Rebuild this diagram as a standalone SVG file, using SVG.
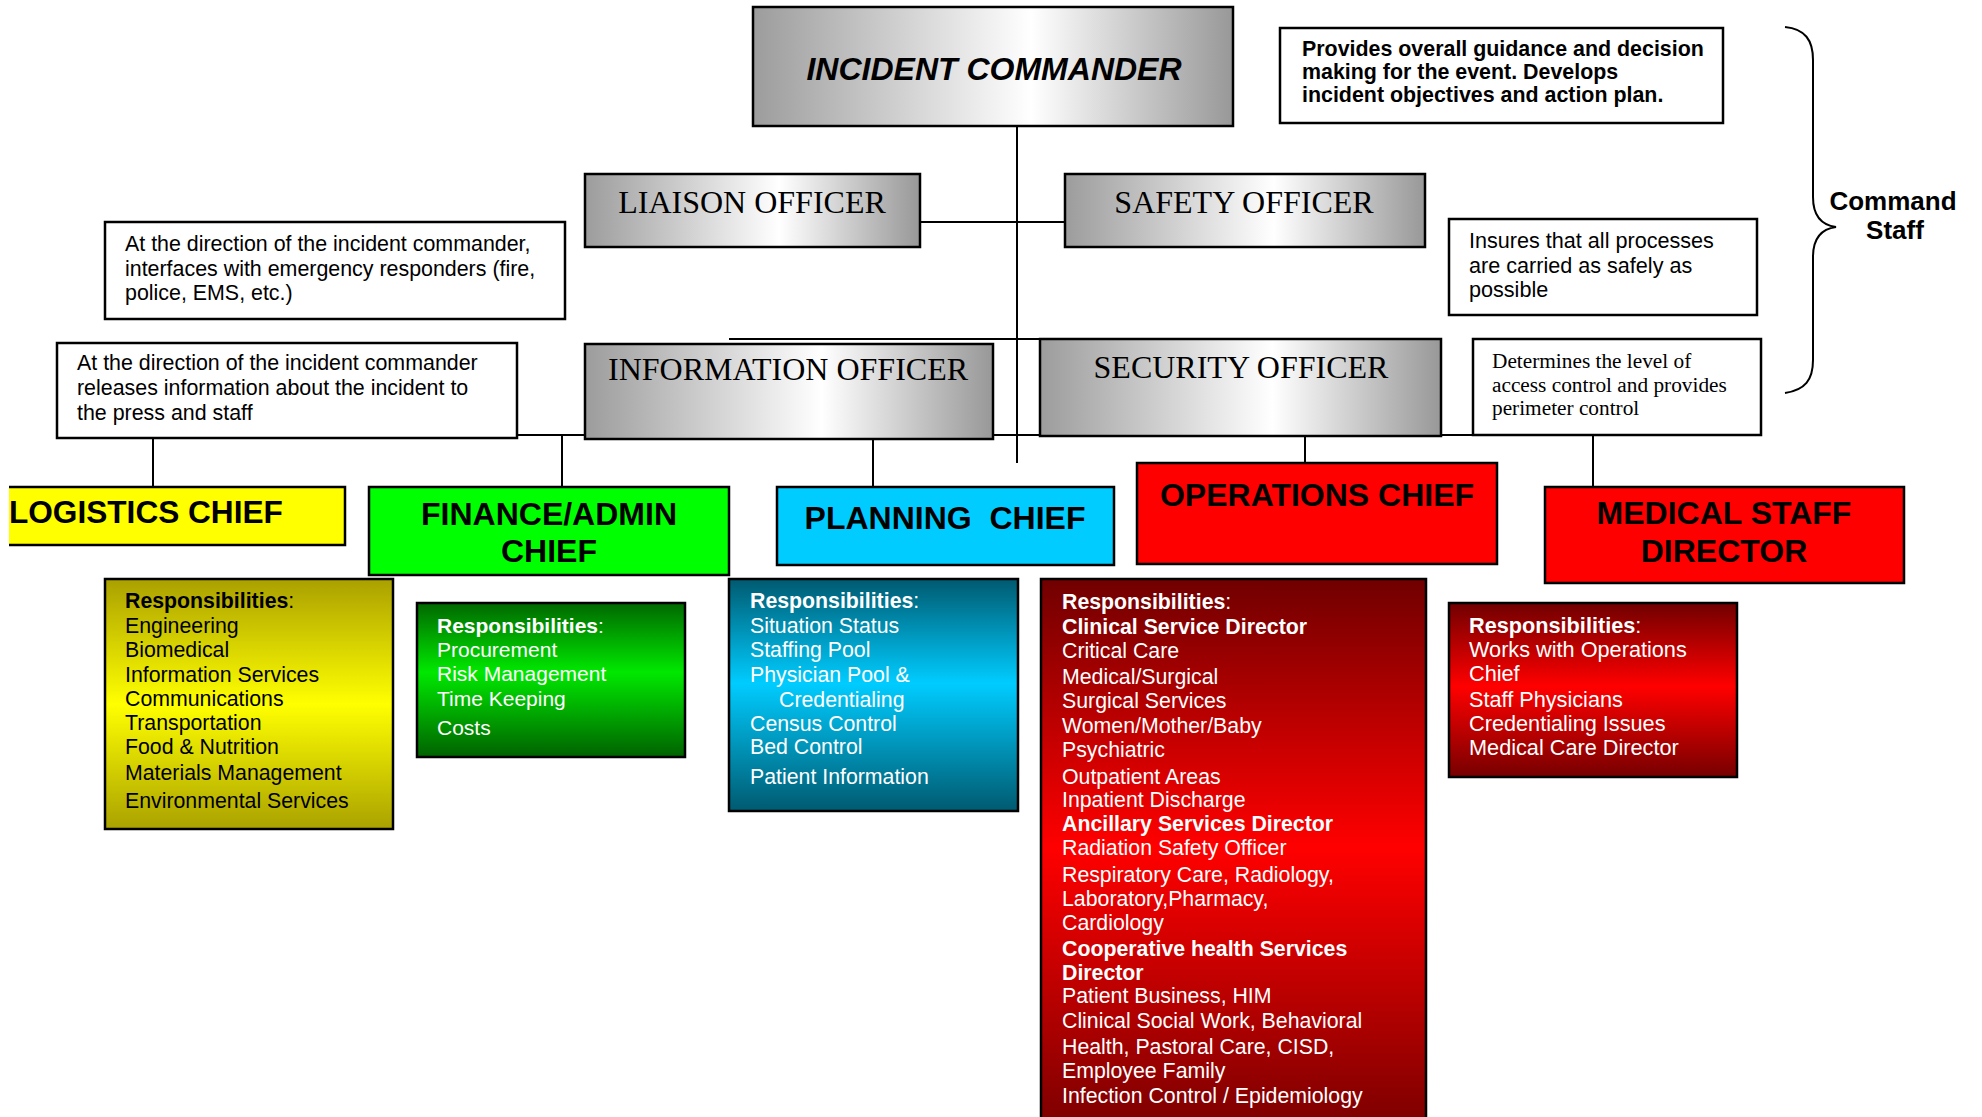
<svg xmlns="http://www.w3.org/2000/svg" width="1982" height="1117" viewBox="0 0 1982 1117">
<defs>
<style>
.box{stroke:#000;stroke-width:2.5}
.ln{stroke:#000;stroke-width:2;fill:none}
.sans{font-family:"Liberation Sans",Arial,sans-serif}
.serif{font-family:"Liberation Serif","Times New Roman",serif}
.off{font-size:32px;fill:#000;text-anchor:middle}
.chief{font-size:32px;font-weight:bold;fill:#000;text-anchor:middle}
.resp{font-size:21.3px}
.w{fill:#fff}
.k{fill:#000}
.b{font-weight:bold}
.desc{font-size:21.4px;fill:#000}
</style>
<linearGradient id="gray" x1="0" y1="0" x2="1" y2="0">
<stop offset="0" stop-color="#9c9c9c"/>
<stop offset="0.58" stop-color="#fff"/>
<stop offset="1" stop-color="#989898"/>
</linearGradient>
<linearGradient id="olive" x1="0" y1="0" x2="0" y2="1">
<stop offset="0" stop-color="#aaa000"/>
<stop offset="0.5" stop-color="#ffff00"/>
<stop offset="1" stop-color="#aaa200"/>
</linearGradient>
<linearGradient id="green" x1="0" y1="0" x2="0" y2="1">
<stop offset="0" stop-color="#006800"/>
<stop offset="0.45" stop-color="#00e800"/>
<stop offset="1" stop-color="#006200"/>
</linearGradient>
<linearGradient id="teal" x1="0" y1="0" x2="0" y2="1">
<stop offset="0" stop-color="#005a70"/>
<stop offset="0.45" stop-color="#00ccff"/>
<stop offset="1" stop-color="#005a70"/>
</linearGradient>
<linearGradient id="red" x1="0" y1="0" x2="0" y2="1">
<stop offset="0" stop-color="#700000"/>
<stop offset="0.48" stop-color="#ff0000"/>
<stop offset="1" stop-color="#760000"/>
</linearGradient>
</defs>
<rect width="1982" height="1117" fill="#fff"/>

<g id="connectors" class="ln">
<path d="M1017,126 V463"/>
<path d="M920,222 H1065"/>
<path d="M729,339 H1040"/>
<path d="M517,435 H1473"/>
<path d="M153,438 V487"/>
<path d="M562,435 V487"/>
<path d="M873,438 V487"/>
<path d="M1305,436 V463"/>
<path d="M1593,435 V487"/>
<path d="M1785,27 C1805,29 1813,40 1813,60 L1813,197 C1813,216 1821,225 1836,227 C1821,229 1813,238 1813,257 L1813,360 C1813,380 1805,390 1785,393"/>
</g>

<g id="incident-commander">
<rect class="box" x="753" y="7" width="480" height="119" fill="url(#gray)"/>
<text class="sans" x="994" y="80" font-size="32" font-weight="bold" font-style="italic" text-anchor="middle">INCIDENT COMMANDER</text>
</g>

<g id="ic-desc">
<rect class="box" x="1280" y="28" width="443" height="95" fill="#fff"/>
<text class="sans" font-size="21.4" font-weight="bold"><tspan x="1302" y="56">Provides overall guidance and decision</tspan><tspan x="1302" y="79">making for the event. Develops</tspan><tspan x="1302" y="102">incident objectives and action plan.</tspan></text>
</g>

<g id="command-staff-label">
<text class="sans" font-size="26" font-weight="bold" text-anchor="middle"><tspan x="1893" y="210">Command</tspan><tspan x="1895" y="239">Staff</tspan></text>
</g>

<g id="liaison-officer">
<rect class="box" x="585" y="174" width="335" height="73" fill="url(#gray)"/>
<text class="serif off" x="752" y="213">LIAISON OFFICER</text>
</g>

<g id="safety-officer">
<rect class="box" x="1065" y="174" width="360" height="73" fill="url(#gray)"/>
<text class="serif off" x="1244" y="213">SAFETY OFFICER</text>
</g>

<g id="liaison-desc">
<rect class="box" x="105" y="222" width="460" height="97" fill="#fff"/>
<text class="sans desc"><tspan x="125" y="251">At the direction of the incident commander,</tspan><tspan x="125" y="276">interfaces with emergency responders (fire,</tspan><tspan x="125" y="300">police, EMS, etc.)</tspan></text>
</g>

<g id="safety-desc">
<rect class="box" x="1449" y="219" width="308" height="96" fill="#fff"/>
<text class="sans" font-size="21.6" fill="#000"><tspan x="1469" y="248">Insures that all processes</tspan><tspan x="1469" y="273">are carried as safely as</tspan><tspan x="1469" y="297">possible</tspan></text>
</g>

<g id="information-desc">
<rect class="box" x="57" y="343" width="460" height="95" fill="#fff"/>
<text class="sans desc"><tspan x="77" y="370">At the direction of the incident commander</tspan><tspan x="77" y="395">releases information about the incident to</tspan><tspan x="77" y="420">the press and staff</tspan></text>
</g>

<g id="information-officer">
<rect class="box" x="585" y="344" width="408" height="95" fill="url(#gray)"/>
<text class="serif off" x="788" y="380">INFORMATION OFFICER</text>
</g>

<g id="security-officer">
<rect class="box" x="1040" y="339" width="401" height="97" fill="url(#gray)"/>
<text class="serif off" x="1241" y="378">SECURITY OFFICER</text>
</g>

<g id="security-desc">
<rect class="box" x="1473" y="339" width="288" height="96" fill="#fff"/>
<text class="serif" font-size="21.3" fill="#000"><tspan x="1492" y="368">Determines the level of</tspan><tspan x="1492" y="392">access control and provides</tspan><tspan x="1492" y="415">perimeter control</tspan></text>
</g>

<g id="logistics-chief">
<rect x="9" y="487" width="336" height="58" fill="#ffff00"/>
<path class="box" d="M9,487 H345 V545 H9" fill="none"/>
<text class="sans" x="9" y="523" font-size="31.6" font-weight="bold">LOGISTICS CHIEF</text>
</g>

<g id="finance-chief">
<rect class="box" x="369" y="487" width="360" height="88" fill="#00ff00"/>
<text class="sans chief"><tspan x="549" y="525">FINANCE/ADMIN</tspan><tspan x="549" y="562">CHIEF</tspan></text>
</g>

<g id="planning-chief">
<rect class="box" x="777" y="487" width="337" height="78" fill="#00ccff"/>
<text class="sans chief" x="945" y="529" style="white-space:pre">PLANNING  CHIEF</text>
</g>

<g id="operations-chief">
<rect class="box" x="1137" y="463" width="360" height="101" fill="#ff0000"/>
<text class="sans chief" x="1317" y="506">OPERATIONS CHIEF</text>
</g>

<g id="medical-staff-director">
<rect class="box" x="1545" y="487" width="359" height="96" fill="#ff0000"/>
<text class="sans chief"><tspan x="1724" y="524">MEDICAL STAFF</tspan><tspan x="1724" y="562">DIRECTOR</tspan></text>
</g>

<g id="logistics-resp">
<rect class="box" x="105" y="579" width="288" height="250" fill="url(#olive)"/>
<g class="sans resp k">
<text x="125" y="608"><tspan class="b">Responsibilities</tspan>:</text>
<text x="125" y="633">Engineering</text>
<text x="125" y="657">Biomedical</text>
<text x="125" y="682">Information Services</text>
<text x="125" y="706">Communications</text>
<text x="125" y="730">Transportation</text>
<text x="125" y="754">Food &amp; Nutrition</text>
<text x="125" y="780">Materials Management</text>
<text x="125" y="808">Environmental Services</text>
</g>
</g>

<g id="finance-resp">
<rect class="box" x="417" y="603" width="268" height="154" fill="url(#green)"/>
<g class="sans w" font-size="21">
<text x="437" y="633"><tspan class="b">Responsibilities</tspan>:</text>
<text x="437" y="657">Procurement</text>
<text x="437" y="681">Risk Management</text>
<text x="437" y="706">Time Keeping</text>
<text x="437" y="735">Costs</text>
</g>
</g>

<g id="planning-resp">
<rect class="box" x="729" y="579" width="289" height="232" fill="url(#teal)"/>
<g class="sans resp w">
<text x="750" y="608"><tspan class="b">Responsibilities</tspan>:</text>
<text x="750" y="633">Situation Status</text>
<text x="750" y="657">Staffing Pool</text>
<text x="750" y="682">Physician Pool &amp;</text>
<text x="779" y="707">Credentialing</text>
<text x="750" y="731">Census Control</text>
<text x="750" y="754">Bed Control</text>
<text x="750" y="784">Patient Information</text>
</g>
</g>

<g id="operations-resp">
<rect class="box" x="1041" y="579" width="385" height="560" fill="url(#red)"/>
<g class="sans resp w">
<text x="1062" y="609"><tspan class="b">Responsibilities</tspan>:</text>
<text x="1062" y="634" class="b">Clinical Service Director</text>
<text x="1062" y="658">Critical Care</text>
<text x="1062" y="684">Medical/Surgical</text>
<text x="1062" y="708">Surgical Services</text>
<text x="1062" y="733">Women/Mother/Baby</text>
<text x="1062" y="757">Psychiatric</text>
<text x="1062" y="784">Outpatient Areas</text>
<text x="1062" y="807">Inpatient Discharge</text>
<text x="1062" y="831" class="b">Ancillary Services Director</text>
<text x="1062" y="855">Radiation Safety Officer</text>
<text x="1062" y="882">Respiratory Care, Radiology,</text>
<text x="1062" y="906">Laboratory,Pharmacy,</text>
<text x="1062" y="930">Cardiology</text>
<text x="1062" y="956" class="b">Cooperative health Services</text>
<text x="1062" y="980" class="b">Director</text>
<text x="1062" y="1003">Patient Business, HIM</text>
<text x="1062" y="1028">Clinical Social Work, Behavioral</text>
<text x="1062" y="1054">Health, Pastoral Care, CISD,</text>
<text x="1062" y="1078">Employee Family</text>
<text x="1062" y="1103">Infection Control / Epidemiology</text>
</g>
</g>

<g id="medical-resp">
<rect class="box" x="1449" y="603" width="288" height="174" fill="url(#red)"/>
<g class="sans w" font-size="21.7">
<text x="1469" y="633"><tspan class="b">Responsibilities</tspan>:</text>
<text x="1469" y="657">Works with Operations</text>
<text x="1469" y="681">Chief</text>
<text x="1469" y="707">Staff Physicians</text>
<text x="1469" y="731">Credentialing Issues</text>
<text x="1469" y="755">Medical Care Director</text>
</g>
</g>
</svg>
